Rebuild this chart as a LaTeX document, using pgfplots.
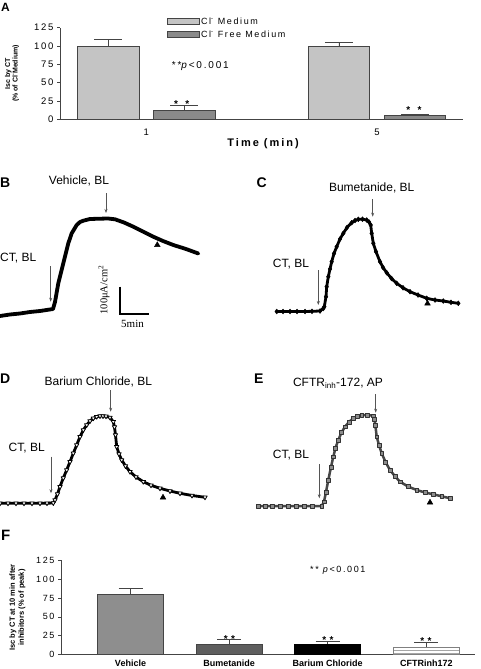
\documentclass[border=0pt]{standalone}
\usepackage{pgfplots}
\pgfplotsset{compat=1.18}
\usepackage{fontspec}
\setmainfont{Liberation Sans}
\newfontfamily\serif{Liberation Serif}
\newfontfamily\spaced[LetterSpace=18]{Liberation Sans}
\usetikzlibrary{patterns,arrows.meta}
\definecolor{lightbar}{HTML}{C4C4C4}
\definecolor{midbar}{HTML}{8A8A8A}
\definecolor{vehbar}{HTML}{8E8E8E}
\definecolor{bumbar}{HTML}{5E5E5E}
\definecolor{axisgray}{HTML}{444444}
\definecolor{arrowgray}{HTML}{555555}
\pgfplotsset{
  barlegend/.style={legend image code/.code={\draw[##1] (0pt,-3pt) rectangle (32pt,3pt);}},
  errstyle/.style={error bars/.cd, y dir=plus, y explicit, error mark=|,
     error bar style={axisgray, line width=0.6pt},
     error mark options={axisgray, line width=0.6pt, mark size=#1}},
}
\begin{document}
\begin{tikzpicture}
\useasboundingbox (0pt,0pt) rectangle (480pt,669pt);
% ---------------- Panel A ----------------
\begin{axis}[
  at={(60pt,549.7pt)}, anchor=south west, scale only axis,
  width=403pt, height=91.6pt,
  xmin=0.626, xmax=2.373, ymin=0, ymax=125,
  axis x line=bottom, axis y line=left,
  axis line style={axisgray, line width=0.7pt, -},
  ytick={0,25,50,75,100,125},
  xtick={1,2}, xticklabels={1,5},
  xtick style={draw=none},
  ytick style={axisgray, line width=0.6pt},
  major tick length=3pt, tick align=outside,
  /pgf/number format/assume math mode=true,
  y tick label style={font=\spaced\fontsize{9.5}{10}\selectfont},
  x tick label style={font=\spaced\fontsize{9.5}{10}\selectfont, yshift=-3pt},
  ylabel={Isc by CT\\(\% of Cl\textsuperscript{-}Medium)},
  ylabel style={at={(axis description cs:-0.119,0.5)}, anchor=center, align=center,
     font=\bfseries\fontsize{7}{7.5}\selectfont},
  xlabel={Time (min)},
  xlabel style={at={(axis description cs:0.504,-0.27)}, anchor=center,
     font=\spaced\bfseries\fontsize{11}{12}\selectfont},
  legend style={at={(axis description cs:0.265,1.13)}, anchor=north west, draw=none, fill=none,
     inner sep=0pt, row sep=2pt, font=\spaced\fontsize{9}{10}\selectfont,
     nodes={inner sep=1.5pt}},
  legend cell align=left,
]
\addplot[ybar, bar width=61.5pt, bar shift=0pt, fill=lightbar, draw=axisgray, line width=0.6pt,
  barlegend, errstyle=14pt]
  coordinates {(0.8353,100) +- (0,8.5) (1.8353,100) +- (0,5.5)};
\addlegendentry{Cl\textsuperscript{-} Medium}
\addplot[ybar, bar width=61.5pt, bar shift=0pt, fill=midbar, draw=axisgray, line width=0.6pt,
  barlegend, errstyle=14pt]
  coordinates {(1.1647,12.5) +- (0,7) (2.1647,5.3) +- (0,1.5)};
\addlegendentry{Cl\textsuperscript{-} Free Medium}
\end{axis}
% ---------------- Panel F ----------------
\begin{axis}[
  at={(61pt,14.5pt)}, anchor=south west, scale only axis,
  width=414pt, height=94pt,
  xmin=-0.705, xmax=3.494, ymin=0, ymax=125,
  axis x line=bottom, axis y line=left,
  axis line style={axisgray, line width=0.7pt, -},
  ytick={0,25,50,75,100,125},
  xtick={0,1,2,3}, xticklabels={Vehicle,Bumetanide,Barium Chloride,CFTRinh172},
  xtick style={draw=none},
  ytick style={axisgray, line width=0.6pt},
  major tick length=3pt, tick align=outside,
  /pgf/number format/assume math mode=true,
  y tick label style={font=\spaced\fontsize{9}{10}\selectfont},
  x tick label style={font=\bfseries\fontsize{9}{10}\selectfont, yshift=1.5pt},
  ylabel={Isc by CT at 10 min after\\inhibitors (\% of peak)},
  ylabel style={at={(axis description cs:-0.105,0.5)}, anchor=center, align=center,
     font=\bfseries\fontsize{7.5}{9}\selectfont},
]
\addplot[ybar, bar width=66pt, bar shift=0pt, fill=vehbar, draw=axisgray, line width=0.6pt, errstyle=12pt]
  coordinates {(0,80) +- (0,8)};
\addplot[ybar, bar width=66pt, bar shift=0pt, fill=bumbar, draw=axisgray, line width=0.6pt, errstyle=12pt]
  coordinates {(1,13.7) +- (0,6.3)};
\addplot[ybar, bar width=66pt, bar shift=0pt, fill=black, draw=black, line width=0.6pt, errstyle=12pt]
  coordinates {(2,14) +- (0,4)};
\addplot[ybar, bar width=66pt, bar shift=0pt, fill=white, draw=gray, line width=0.6pt,
  postaction={pattern=horizontal lines, pattern color=gray!70}, errstyle=12pt]
  coordinates {(3,10) +- (0,6)};
\end{axis}
% ---------------- Traces B-E and annotations (pixel frame) ----------------
\begin{axis}[
  at={(0pt,0pt)}, anchor=south west, scale only axis,
  width=480pt, height=669pt,
  xmin=0, xmax=480, ymin=0, ymax=669, y dir=reverse,
  hide axis, clip=false,
]
% B: vehicle
\addplot[black, line width=3.8pt, line join=round, line cap=round] coordinates {
 (0,316) (10,314.5) (20,313.5) (30,312) (40,311) (53,309) (55,302) (58.3,283.3)
 (63.3,263.3) (68.3,243.3) (71.7,233.3) (76.7,225) (80,222) (83.3,220.7) (90,219)
 (100,218.7) (108,218.5) (115,219.3) (124,222.5) (133.3,226.7) (143,231.5)
 (153.3,236.7) (163,241) (173.3,245) (186,249) (198.3,253.5)};
% C: bumetanide
\addplot[black, line width=2.8pt, line join=round, mark=diamond*, mark size=2.5pt,
  mark options={line width=0.4pt}] coordinates {
 (276.7,311.5) (283,311.5) (290,311.5) (297,311.5) (305,311.5) (312,311.3) (320,311) (323.3,308.5)
 (324.3,306.7) (326,296.7) (326.7,286.7) (328.3,276.7) (330,269) (331.7,261.7) (334,253.5)
 (336.7,246.7) (340,239) (343.3,233.3) (347,227.5) (351.7,222.7) (355,220.5) (358.3,219.3)
 (362.5,219.2) (366.7,220) (369,222) (370.7,225) (371.7,233.3) (373.3,243.3) (376,251.7)
 (380,261.7) (383,267.5) (386.7,272.7) (391.5,278.5) (396.7,283.3) (403,287.8) (410,291.7)
 (418,295) (426.7,298.3) (435,300) (443.3,301) (451,302.3) (458.3,303.3)};
% D: barium chloride
\addplot[black, line width=2.8pt, line join=round, mark=triangle*, mark size=2.5pt,
  mark options={rotate=180, fill=white, draw=black, line width=0.8pt}] coordinates {
 (0,503.3) (8,503.3) (16,503.3) (24,503.3) (32,503.3) (40,503.3) (47,503.2) (53.3,503) (55,500)
 (57.5,494) (60,486.7) (63.3,478) (66.7,470) (70,461.7) (73.3,453.3) (76.7,445) (80,436.7)
 (83.3,430) (86.7,425) (90,421) (93.3,418.3) (96.7,416.7) (100,416) (103,416) (106,416.3) (110,417.5)
 (113.3,421.7) (114.5,427) (115.5,435) (116.7,446.7) (119,454) (121.7,460) (125.5,466)
 (130,471.7) (136,477) (143.3,481.7) (151,485.3) (160,488.3) (170,491) (180,493.3)
 (192,495.5) (205,497.3)};
% E: CFTRinh-172
\addplot[black!72, line width=2.5pt, line join=round, mark=square*, mark size=1.8pt,
  mark options={fill=black!45, draw=black!80, line width=0.5pt}] coordinates {
 (258.3,506) (265,506) (272,506) (280,506) (288,506) (296,506) (304,506) (312,506) (321.7,506)
 (324,501.7) (326,492) (328.3,480) (331,467) (333.3,456.7) (335.5,448) (338.3,440) (341.5,432.5)
 (345,426.7) (349,422) (353.3,418.3) (357,416.3) (361.7,415) (367,415) (373.3,415.7)
 (374.5,419) (375.3,425) (376.7,436.7) (379,445) (381.7,453.3) (385.5,462) (390,470)
 (395,476.3) (400,481.7) (408,486.5) (416.7,490) (425,492.5) (433.3,494.3) (441.7,496.3)
 (450,498.3)};
% 10-min markers
\addplot[only marks, mark=triangle*, mark size=3.3pt, black] coordinates {
 (157.3,245) (427.5,303.5) (163,497.5) (430,502.5)};
% scale bar
\addplot[black, line width=1.1pt] coordinates {(120,286.7) (120,314) (149,314)};
\node[rotate=90, font=\serif\fontsize{10.5}{11}\selectfont] at (104,290) {100μA/cm\textsuperscript{2}};
\node[font=\serif\fontsize{11}{12}\selectfont] at (132.5,324.3) {5min};
% arrows
\begin{scope}[arrowgray, line width=0.6pt, -{Stealth[length=4pt,width=3pt]}]
\draw (106,193) -- (106,213);
\draw (50.7,266) -- (50.7,301.7);
\draw (372.7,199) -- (372.7,216.7);
\draw (318.3,270) -- (318.3,305);
\draw (110.7,390) -- (110.7,411.7);
\draw (51,456.7) -- (51,493.3);
\draw (375.7,394) -- (375.7,412.7);
\draw (319.3,464) -- (319.3,498.3);
\end{scope}
% trace labels
\begin{scope}[font=\fontsize{12}{13}\selectfont]
\node at (79,180.7) {Vehicle, BL};
\node[anchor=west, inner sep=0pt] at (0,257.7) {CT, BL};
\node at (371.7,188.3) {Bumetanide, BL};
\node at (291,264) {CT, BL};
\node at (98.3,381.7) {Barium Chloride, BL};
\node at (26.7,448.3) {CT, BL};
\node at (338,383.3) {CFTR\textsubscript{inh}-172, AP};
\node at (291,455) {CT, BL};
\end{scope}
% panel letters
\node[anchor=west, inner sep=0pt, font=\bfseries\fontsize{12}{13}\selectfont] at (1,7.5) {A};
\node[anchor=west, inner sep=0pt, font=\bfseries\fontsize{14}{15}\selectfont] at (0,183) {B};
\node[anchor=west, inner sep=0pt, font=\bfseries\fontsize{14}{15}\selectfont] at (256.5,183) {C};
\node[anchor=west, inner sep=0pt, font=\bfseries\fontsize{14}{15}\selectfont] at (0,379) {D};
\node[anchor=west, inner sep=0pt, font=\bfseries\fontsize{14}{15}\selectfont] at (254,379) {E};
\node[anchor=west, inner sep=0pt, font=\bfseries\fontsize{15}{16}\selectfont] at (1,535) {F};
% significance notes
\node[anchor=west, inner sep=0pt, font=\spaced\fontsize{10}{11}\selectfont] at (171.7,66) {**\textit{p}<0.001};
\node[anchor=west, inner sep=0pt, font=\spaced\fontsize{9}{10}\selectfont] at (310,570) {** \textit{p}<0.001};
\begin{scope}[font=\bfseries\fontsize{10}{11}\selectfont, anchor=base, inner sep=0pt]
\node at (181.7,108) {*\hspace{7.5pt}*};
\node at (414,113.5) {*\hspace{7.5pt}*};
\node at (229.5,642) {*\hspace{3.5pt}*};
\node at (328,643.5) {*\hspace{3.5pt}*};
\node at (426,644.5) {*\hspace{3.5pt}*};
\end{scope}
\end{axis}
\end{tikzpicture}
\end{document}
